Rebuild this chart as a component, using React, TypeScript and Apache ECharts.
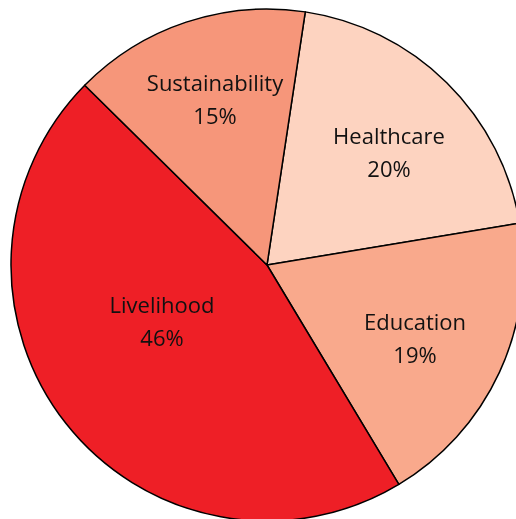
import React, { useEffect, useRef } from "react";
import * as echarts from "echarts";

const categories = ["Healthcare", "Education", "Livelihood", "Sustainability"];
const values = [20, 19, 46, 15];
const colors = ["#FDD3C0", "#F9A98C", "#EE1F26", "#F6967A"];
const labelPos: [number, number][] = [
  [389, 151],
  [415, 337],
  [162, 320],
  [215, 98],
];

export default function App() {
  const ref = useRef<HTMLDivElement>(null);
  useEffect(() => {
    if (!ref.current) return;
    const chart = echarts.init(ref.current, undefined, { renderer: "svg" });
    chart.setOption({
      animation: false,
      series: [
        {
          type: "pie",
          center: [267, 265],
          radius: 256,
          startAngle: 81.4,
          clockwise: true,
          data: categories.map((c, i) => ({
            name: c,
            value: values[i],
            itemStyle: { color: colors[i] },
          })),
          itemStyle: { borderColor: "#000", borderWidth: 1.5 },
          label: {
            show: true,
            position: "inside",
            formatter: "{b}\n{c}%",
            color: "#111",
            fontFamily: "Open Sans",
            fontSize: 22,
            lineHeight: 33,
            align: "center",
          },
          labelLine: { show: false },
          labelLayout: (p: any) => ({
            x: labelPos[p.dataIndex][0],
            y: labelPos[p.dataIndex][1],
            align: "center",
            verticalAlign: "middle",
          }),
          emphasis: { disabled: true },
        },
      ],
    });
    return () => chart.dispose();
  }, []);
  return (
    <div
      ref={ref}
      style={{ position: "fixed", left: 0, top: 0, width: 516, height: 519 }}
    />
  );
}
